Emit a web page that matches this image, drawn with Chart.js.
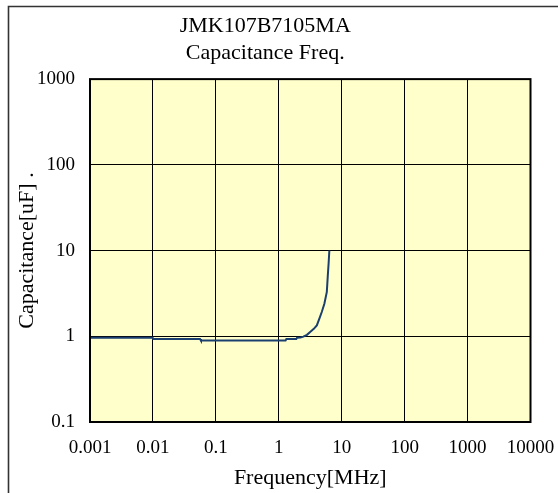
<!DOCTYPE html>
<html>
<head>
<meta charset="utf-8">
<script src="https://cdn.jsdelivr.net/npm/chart.js@4/dist/chart.umd.min.js"></script>
<style>
  html, body { margin: 0; padding: 0; background: #ffffff; }
  #wrap { width: 558px; height: 493px; }
</style>
</head>
<body>
<div id="wrap"><canvas id="c" width="558" height="493"></canvas></div>
<script>
// ---- data ----
const freqMHz = [0.001, 0.0099, 0.0101, 0.056, 0.058, 1.28, 1.32, 1.9, 1.95, 2.2, 2.46, 2.8, 3.15, 3.6, 4.02, 4.4, 4.82, 5.3, 5.8, 6.0, 6.2, 6.36];
const capUF   = [0.96, 0.96, 0.93, 0.93, 0.89, 0.89, 0.93, 0.93, 0.96, 0.97, 0.99, 1.04, 1.12, 1.22, 1.34, 1.6, 1.92, 2.4, 3.3, 5.0, 7.2, 10];
const xTickValues = [0.001, 0.01, 0.1, 1, 10, 100, 1000, 10000];
const xTickLabels = ['0.001', '0.01', '0.1', '1', '10', '100', '1000', '10000'];
const yTickValues = [0.1, 1, 10, 100, 1000];
const yTickLabels = ['0.1', '1', '10', '100', '1000'];
const titleLines = ['JMK107B7105MA', 'Capacitance Freq.'];
const xTitle = 'Frequency[MHz]';
const yTitle = 'Capacitance[uF] .';

const points = freqMHz.map((f, i) => ({ x: f, y: capUF[i] }));
const FONT = 'Liberation Serif, Times New Roman, serif';

const decorPlugin = {
  id: 'decor',
  beforeDraw(chart) {
    const { ctx, chartArea: a } = chart;
    ctx.save();
    ctx.fillStyle = '#FFFFCC';
    ctx.fillRect(a.left, a.top, a.right - a.left, a.bottom - a.top);
    ctx.restore();
  },
  afterDraw(chart) {
    const { ctx, chartArea: a } = chart;
    ctx.save();
    ctx.strokeStyle = '#000000';
    ctx.lineWidth = 2;
    ctx.strokeRect(a.left, a.top, a.right - a.left, a.bottom - a.top);
    // outer frame (left and top edges)
    ctx.strokeStyle = '#333333';
    ctx.lineWidth = 1.6;
    ctx.beginPath();
    ctx.moveTo(8.5, 493);
    ctx.lineTo(8.5, 6.5);
    ctx.lineTo(558, 6.5);
    ctx.stroke();
    ctx.restore();
  }
};

new Chart(document.getElementById('c'), {
  type: 'scatter',
  data: {
    datasets: [{
      data: points,
      showLine: true,
      borderColor: '#1B3F6E',
      borderWidth: 2,
      pointRadius: 0,
      fill: false,
      tension: 0
    }]
  },
  options: {
    responsive: false,
    animation: false,
    devicePixelRatio: 1,
    layout: { padding: { left: 0, right: 27.5, top: 0, bottom: 0 } },
    plugins: {
      legend: { display: false },
      tooltip: { enabled: false },
      title: {
        display: true,
        text: titleLines,
        color: '#000000',
        font: { family: FONT, size: 22, weight: 'normal', lineHeight: 1.23 },
        padding: { top: 12.5, bottom: 12.5 }
      }
    },
    scales: {
      x: {
        type: 'logarithmic',
        min: 0.001,
        max: 10000,
        afterBuildTicks(scale) { scale.ticks = xTickValues.map(v => ({ value: v })); },
        afterFit(scale) { scale.height = 71; scale.paddingLeft = 0; scale.paddingRight = 0; },
        ticks: {
          color: '#000000',
          font: { family: FONT, size: 19 },
          padding: 15,
          autoSkip: false,
          maxRotation: 0,
          callback: (v, i) => xTickLabels[i]
        },
        grid: { color: '#000000', lineWidth: 1, drawTicks: false },
        border: { display: false },
        title: {
          display: true,
          text: xTitle,
          color: '#000000',
          font: { family: FONT, size: 22, weight: 'normal' },
          padding: { top: 0, bottom: 2 }
        }
      },
      y: {
        type: 'logarithmic',
        min: 0.1,
        max: 1000,
        afterBuildTicks(scale) { scale.ticks = yTickValues.map(v => ({ value: v })); },
        afterFit(scale) { scale.width = 90; scale.paddingTop = 0; scale.paddingBottom = 0; },
        ticks: {
          color: '#000000',
          font: { family: FONT, size: 19 },
          padding: 15,
          autoSkip: false,
          callback: (v, i) => yTickLabels[i]
        },
        grid: { color: '#000000', lineWidth: 1, drawTicks: false },
        border: { display: false },
        title: {
          display: true,
          text: yTitle,
          color: '#000000',
          font: { family: FONT, size: 22, weight: 'normal' },
          padding: { top: 14, bottom: 0 }
        }
      }
    }
  },
  plugins: [decorPlugin]
});
</script>
</body>
</html>
